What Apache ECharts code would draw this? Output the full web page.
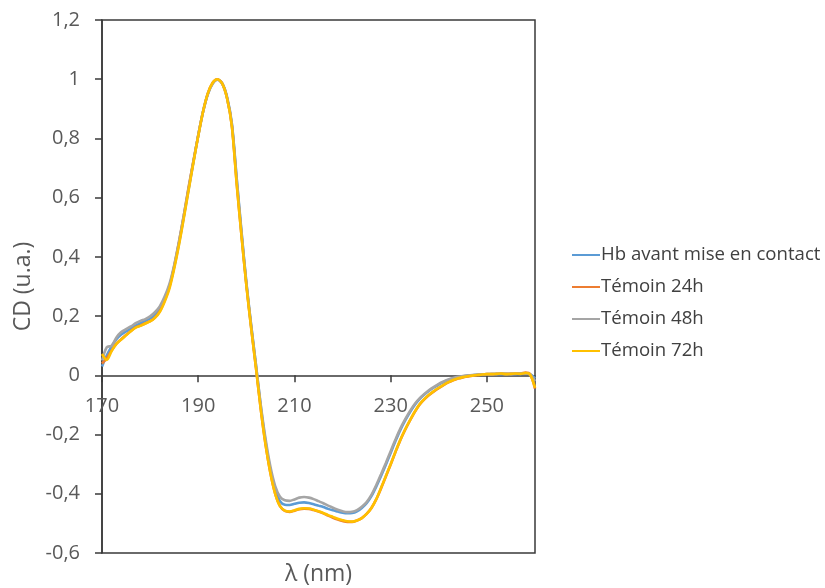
<!DOCTYPE html>
<html>
<head>
<meta charset="utf-8">
<script src="https://cdn.jsdelivr.net/npm/echarts@6/dist/echarts.min.js"></script>
<style>
html,body{margin:0;padding:0;background:#fff;}
#chart{width:825px;height:588px;}
</style>
</head>
<body>
<div id="chart"></div>
<script>
// wavelength grid (nm), 170..260 step 1
const wavelengthStart = 170;
const wavelengthEnd = 260;
const wavelengths = [];
for (let w = wavelengthStart; w <= wavelengthEnd; w++) wavelengths.push(w);

const seriesNames = ['Hb avant mise en contact', 'Témoin 24h', 'Témoin 48h', 'Témoin 72h'];
const seriesColors = ['#5B9BD5', '#ED7D31', '#A5A5A5', '#FFC000'];

const xTicks = [170, 190, 210, 230, 250];
const yTicks = [-0.6, -0.4, -0.2, 0, 0.2, 0.4, 0.6, 0.8, 1, 1.2];

const hbAvant = [
 0.030,0.068,0.098,0.122,0.138,0.148,0.158,0.168,0.176,0.184,
 0.192,0.205,0.225,0.257,0.300,0.365,0.445,0.535,0.628,0.720,
 0.810,0.890,0.950,0.986,0.999,0.986,0.940,0.850,0.665,0.485,
 0.315,0.170,0.035,-0.105,-0.225,-0.320,-0.388,-0.425,-0.437,-0.438,
 -0.434,-0.430,-0.429,-0.431,-0.435,-0.440,-0.445,-0.451,-0.456,-0.460,
 -0.464,-0.466,-0.465,-0.459,-0.448,-0.432,-0.408,-0.376,-0.340,-0.302,
 -0.262,-0.222,-0.185,-0.153,-0.125,-0.100,-0.080,-0.065,-0.052,-0.041,
 -0.031,-0.023,-0.016,-0.011,-0.007,-0.004,-0.002,0.000,0.002,0.003,
 0.003,0.004,0.004,0.005,0.004,0.005,0.005,0.005,0.006,0.004,
 -0.010
];

const temoin24 = [
 0.040,0.058,0.084,0.107,0.122,0.136,0.150,0.162,0.168,0.176,
 0.183,0.195,0.216,0.252,0.298,0.368,0.450,0.540,0.635,0.724,
 0.810,0.890,0.952,0.988,1.000,0.985,0.936,0.842,0.648,0.472,
 0.306,0.161,0.026,-0.114,-0.234,-0.330,-0.400,-0.442,-0.458,-0.461,
 -0.457,-0.452,-0.450,-0.451,-0.455,-0.460,-0.466,-0.474,-0.481,-0.487,
 -0.492,-0.495,-0.495,-0.490,-0.482,-0.468,-0.448,-0.419,-0.382,-0.342,
 -0.301,-0.259,-0.219,-0.184,-0.153,-0.124,-0.099,-0.081,-0.066,-0.054,
 -0.043,-0.033,-0.024,-0.017,-0.011,-0.007,-0.004,-0.001,0.001,0.003,
 0.004,0.004,0.005,0.006,0.005,0.005,0.006,0.006,0.009,0.003,
 -0.045
];

const temoin48 = [
 0.050,0.095,0.100,0.128,0.146,0.156,0.165,0.176,0.184,0.190,
 0.199,0.213,0.233,0.265,0.308,0.372,0.452,0.540,0.632,0.722,
 0.810,0.890,0.950,0.985,0.998,0.984,0.936,0.845,0.660,0.480,
 0.312,0.168,0.035,-0.100,-0.215,-0.308,-0.374,-0.410,-0.422,-0.424,
 -0.419,-0.413,-0.411,-0.413,-0.418,-0.425,-0.432,-0.440,-0.447,-0.454,
 -0.459,-0.462,-0.461,-0.455,-0.444,-0.428,-0.404,-0.371,-0.334,-0.296,
 -0.256,-0.217,-0.180,-0.149,-0.121,-0.097,-0.078,-0.063,-0.050,-0.039,
 -0.029,-0.021,-0.014,-0.009,-0.005,-0.002,0.000,0.001,0.003,0.003,
 0.004,0.004,0.005,0.005,0.005,0.004,0.005,0.006,0.006,0.003,
 -0.020
];

const temoin72 = [
 0.072,0.052,0.082,0.106,0.121,0.135,0.149,0.161,0.167,0.175,
 0.182,0.194,0.214,0.248,0.292,0.360,0.440,0.530,0.625,0.718,
 0.808,0.890,0.952,0.988,1.000,0.985,0.935,0.840,0.645,0.470,
 0.305,0.160,0.025,-0.115,-0.235,-0.330,-0.400,-0.442,-0.457,-0.460,
 -0.456,-0.451,-0.449,-0.450,-0.454,-0.459,-0.465,-0.472,-0.478,-0.484,
 -0.489,-0.493,-0.494,-0.490,-0.482,-0.468,-0.448,-0.418,-0.380,-0.340,
 -0.300,-0.258,-0.218,-0.183,-0.152,-0.123,-0.098,-0.080,-0.065,-0.053,
 -0.042,-0.032,-0.023,-0.016,-0.010,-0.006,-0.003,-0.001,0.001,0.003,
 0.004,0.004,0.005,0.006,0.004,0.005,0.006,0.005,0.008,0.002,
 -0.042
];

const allValues = [hbAvant, temoin24, temoin48, temoin72];

const fmt = v => String(+Number(v).toFixed(1)).replace('.', ',');
const FONT = "'Open Sans', sans-serif";

const W = 825, H = 588;
const grid = {left: 102, top: 20, right: 290, bottom: 35};
const yMin = yTicks[0], yMax = yTicks[yTicks.length - 1];
const plotH = H - grid.top - grid.bottom;
// place the x axis on the y = 0 line (axis crosses at zero)
const zeroOffset = -plotH * (0 - yMin) / (yMax - yMin);

const chart = echarts.init(document.getElementById('chart'), null, {renderer: 'canvas'});

chart.setOption({
  animation: false,
  backgroundColor: '#ffffff',
  grid: Object.assign({show: true, borderColor: '#3a3a3a', borderWidth: 1.5, backgroundColor: 'transparent'}, grid),
  legend: {
    orient: 'vertical',
    left: 567,
    top: 240,
    itemWidth: 28,
    itemHeight: 14,
    itemGap: 12,
    data: seriesNames,
    icon: 'path://M0,6 L28,6 L28,8 L0,8 Z',
    textStyle: {fontFamily: FONT, fontSize: 18.6, color: '#404040', padding: [0, 0, 0, -4], lineHeight: 20}
  },
  xAxis: {
    type: 'value',
    min: xTicks[0],
    max: wavelengthEnd,
    interval: xTicks[1] - xTicks[0],
    offset: zeroOffset,
    axisLine: {onZero: false, lineStyle: {color: '#3a3a3a', width: 1.5}},
    axisTick: {show: true, length: 7, lineStyle: {color: '#3a3a3a', width: 1.5}},
    axisLabel: {
      fontFamily: FONT, fontSize: 20, color: '#595959', margin: 21,
      showMaxLabel: false,
      formatter: v => (xTicks.indexOf(v) >= 0 ? String(v) : '')
    },
    splitLine: {show: false}
  },
  yAxis: {
    type: 'value',
    min: yMin,
    max: yMax,
    interval: 0.2,
    name: 'CD (u.a.)',
    nameLocation: 'middle',
    nameGap: 66,
    nameTextStyle: {fontFamily: FONT, fontSize: 23, color: '#595959'},
    axisLine: {show: true, lineStyle: {color: '#3a3a3a', width: 1.5}},
    axisTick: {show: true, length: 7, lineStyle: {color: '#3a3a3a', width: 1.5}},
    axisLabel: {fontFamily: FONT, fontSize: 20, color: '#595959', margin: 22, formatter: fmt},
    splitLine: {show: false}
  },
  graphic: [{
    type: 'text',
    x: (grid.left + (W - grid.right)) / 2,
    y: 574,
    style: {text: 'λ (nm)', fontFamily: FONT, fontSize: 23, fill: '#595959', textAlign: 'center', textVerticalAlign: 'middle'}
  }],
  series: seriesNames.map((name, i) => ({
    name: name,
    type: 'line',
    data: wavelengths.map((w, k) => [w, allValues[i][k]]),
    showSymbol: false,
    symbol: 'none',
    smooth: 0.3,
    lineStyle: {color: seriesColors[i], width: 2.6},
    itemStyle: {color: seriesColors[i]},
    z: 2 + i
  }))
});
</script>
</body>
</html>
